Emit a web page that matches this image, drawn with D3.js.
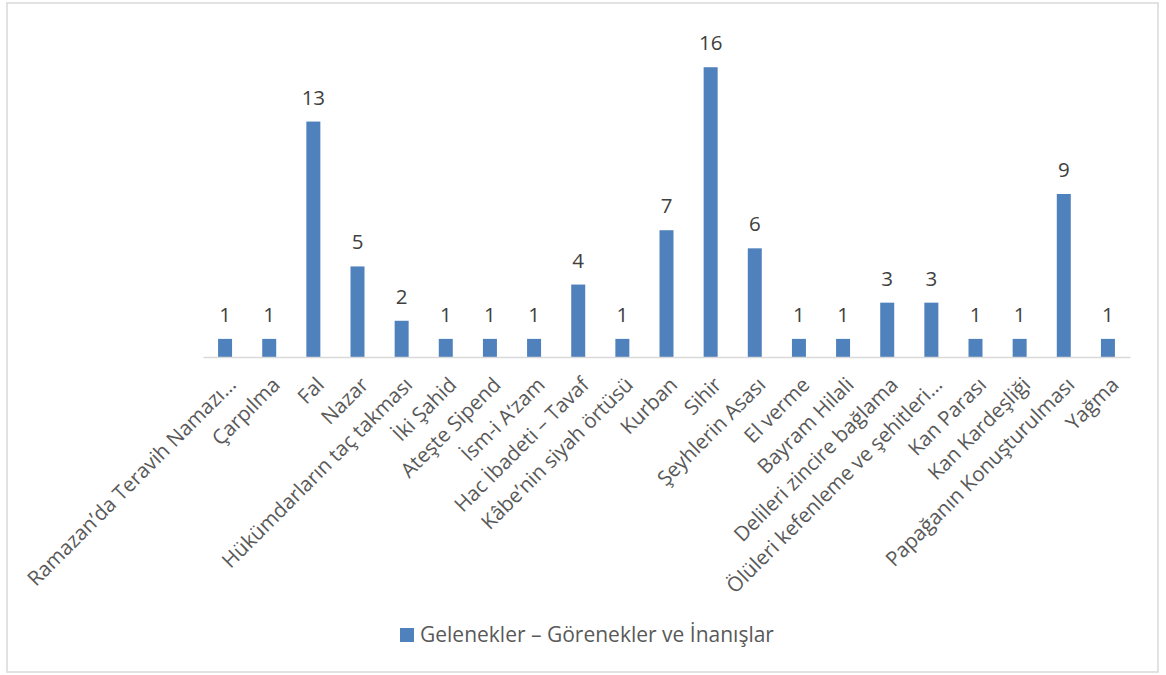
<!DOCTYPE html>
<html>
<head>
<meta charset="utf-8">
<script src="https://cdn.jsdelivr.net/npm/d3@7"></script>
<style>
  body { margin: 0; background: #fff; }
  text { font-family: "Open Sans", sans-serif; }
</style>
</head>
<body>
<div id="chart"></div>
<script>
// categories along the x axis (as shown, incl. truncated ones)
var categories = [
  "Ramazan’da Teravih Namazı…",
  "Çarpılma",
  "Fal",
  "Nazar",
  "Hükümdarların taç takması",
  "İki Şahid",
  "Ateşte Sipend",
  "İsm-i A‘zam",
  "Hac İbadeti – Tavaf",
  "Kâbe’nin siyah örtüsü",
  "Kurban",
  "Sihir",
  "Şeyhlerin Asası",
  "El verme",
  "Bayram Hilali",
  "Delileri zincire bağlama",
  "Ölüleri kefenleme ve şehitleri…",
  "Kan Parası",
  "Kan Kardeşliği",
  "Papağanın Konuşturulması",
  "Yağma"
];

// counts per category
var counts = [1, 1, 13, 5, 2, 1, 1, 1, 4, 1, 7, 16, 6, 1, 1, 3, 3, 1, 1, 9, 1];

var seriesName = "Gelenekler – Görenekler ve İnanışlar";

var yDomain = [0, 18];

var svgWidth = 1166;
var svgHeight = 675;

var margin = { top: 31, bottom: 318, left: 203, right: 36 };
var width = svgWidth - margin.left - margin.right;
var height = svgHeight - margin.top - margin.bottom;

var svg = d3.select("#chart")
  .append("svg")
  .attr("width", svgWidth)
  .attr("height", svgHeight);

// chart border
svg.append("rect")
  .attr("x", 7)
  .attr("y", 3)
  .attr("width", 1151)
  .attr("height", 669)
  .attr("fill", "#fff")
  .attr("stroke", "#d9d9d9")
  .attr("stroke-width", 1.5);

var chartGroup = svg.append("g")
  .attr("transform", `translate(${margin.left}, ${margin.top})`);

var xScale = d3.scaleBand()
  .domain(categories)
  .range([0, width])
  .paddingInner(0.683)
  .paddingOuter(0.683 / 2);

var yScale = d3.scaleLinear()
  .domain(yDomain)
  .range([height, 0]);

var data = categories.map((c, i) => ({ name: c, value: counts[i] }));

// bars
chartGroup.selectAll("rect.bar")
  .data(data)
  .enter()
  .append("rect")
  .attr("class", "bar")
  .attr("x", d => xScale(d.name))
  .attr("y", d => yScale(d.value))
  .attr("width", xScale.bandwidth())
  .attr("height", d => height - yScale(d.value))
  .attr("fill", "#4f81bd");

// value labels
chartGroup.selectAll("text.val")
  .data(data)
  .enter()
  .append("text")
  .attr("class", "val")
  .attr("x", d => xScale(d.name) + xScale.bandwidth() / 2)
  .attr("y", d => yScale(d.value) - 17)
  .attr("text-anchor", "middle")
  .attr("font-size", "20.5px")
  .attr("fill", "#404040")
  .text(d => d.value);

// x axis, line only, rotated labels
var xAxis = chartGroup.append("g")
  .attr("transform", `translate(0, ${height})`)
  .call(d3.axisBottom(xScale).tickSize(0).tickSizeOuter(0));

xAxis.select(".domain")
  .attr("stroke", "#d9d9d9")
  .attr("stroke-width", 1.5);

xAxis.selectAll(".tick text")
  .attr("font-size", "20.5px")
  .attr("fill", "#595959")
  .attr("text-anchor", "end")
  .attr("x", 0)
  .attr("y", 0)
  .attr("dy", "0.35em")
  .attr("transform", "translate(7, 24) rotate(-45)");

// legend
var legend = svg.append("g")
  .attr("transform", "translate(400, 628)");

legend.append("rect")
  .attr("width", 14)
  .attr("height", 14)
  .attr("fill", "#4f81bd");

legend.append("text")
  .attr("x", 20)
  .attr("y", 14)
  .attr("font-size", "21px")
  .attr("fill", "#595959")
  .text(seriesName);
</script>
</body>
</html>
